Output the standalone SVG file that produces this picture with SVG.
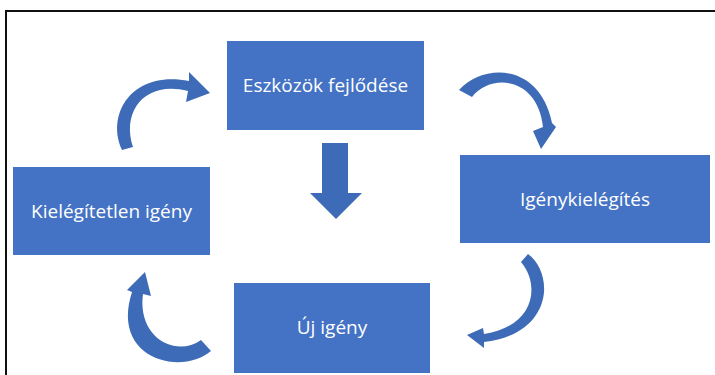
<svg xmlns="http://www.w3.org/2000/svg" width="715" height="375" viewBox="0 0 715 375">
  <style>
    .box { fill: #4472C4; }
    .lbl { fill: #ffffff; font-family: "Open Sans", "Liberation Sans", sans-serif; font-size: 19px; text-anchor: middle; }
    .arr { fill: #3D6BB7; }
  </style>
  <rect x="0" y="0" width="715" height="375" fill="#ffffff"/>
  <path d="M 6 375 V 11 H 715" fill="none" stroke="#111" stroke-width="2"/>

  <g id="node-eszkozok">
    <rect class="box" x="227" y="41" width="197" height="89"/>
    <text class="lbl" x="325.5" y="92">Eszközök fejlődése</text>
  </g>
  <g id="node-igenykielegites">
    <rect class="box" x="460" y="155" width="250" height="88"/>
    <text class="lbl" x="585" y="206">Igénykielégítés</text>
  </g>
  <g id="node-kielegitetlen">
    <rect class="box" x="13" y="167" width="197" height="88"/>
    <text class="lbl" x="111.5" y="218">Kielégítetlen igény</text>
  </g>
  <g id="node-uj">
    <rect class="box" x="234" y="283" width="196" height="90"/>
    <text class="lbl" x="332" y="334">Új igény</text>
  </g>

  <g id="connectors">
    <!-- top-left curved arrow -->
    <path class="arr" d="M 122 150 C 106 116, 130 70, 189 81 L 189 72 L 210 93 L 186 102 L 188 91 C 146 80, 121 110, 133 147 Z"/>
    <!-- top-right curved arrow -->
    <path class="arr" d="M 459 90 C 485 62, 540 64, 552 123 L 556 127 L 541 149 L 533 131 L 543 127 C 538 78, 492 72, 472 97 Z"/>
    <!-- bottom-right curved arrow -->
    <path class="arr" d="M 521 262 L 528 254 C 555 274, 553 334, 484 342 L 484 348 L 467 335 L 483 328 L 484 334 C 536 326, 540 284, 521 262 Z"/>
    <!-- bottom-left curved arrow -->
    <path class="arr" d="M 211 351 C 182 376, 110 360, 132 292 L 127 290 L 145 272 L 151 296 L 143 294 C 137 338, 176 358, 201 340 Z"/>
    <!-- down arrow -->
    <path class="arr" d="M 322 143 H 348 V 193 H 362 L 336 219 L 310 193 H 322 Z"/>
  </g>
</svg>
